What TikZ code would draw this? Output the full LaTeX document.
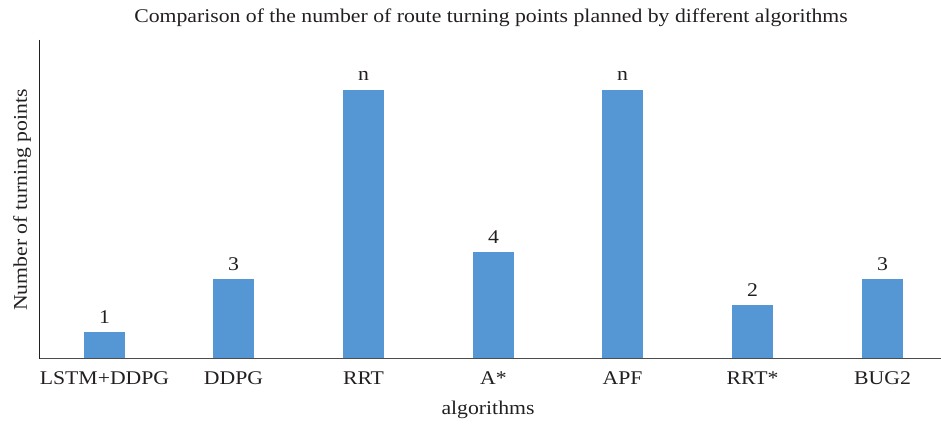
\documentclass[tikz,border=0pt]{standalone}
\usepackage{fontspec}
\setmainfont[FakeStretch=1.12]{Liberation Serif}
\definecolor{barblue}{HTML}{5596D4}
\definecolor{inkc}{HTML}{231F20}
\begin{document}
\begin{tikzpicture}[x=1pt,y=-1pt,
  txt/.style={text=inkc,font=\fontsize{19.4}{21}\selectfont,inner sep=0pt},
  bar/.style={fill=barblue,draw=none},
  vlabel/.style={txt,anchor=base}]
\useasboundingbox (0,0) rectangle (941,425);
% axes
\coordinate (o) at (39.5,358.5);
\coordinate (ytop) at (39.5,40);
\coordinate (xend) at (941,358.5);
% bars: centre, top, label
\foreach \cx/\top/\v/\name [count=\i] in
  {104.5/332/1/LSTM+DDPG, 233.5/279/3/DDPG, 363.5/90/n/RRT, 493.5/252/4/A*,
   622.5/90/n/APF, 752.5/305/2/RRT*, 882.5/279/3/BUG2}{
  \fill[bar] (\cx-20.5,358.5) rectangle (\cx+20.5,\top);
  \node[vlabel] (v\i) at (\cx,\top-9) {\v};
  \node[txt,anchor=base] (c\i) at (\cx,384) {\name};
}
\draw[inkc,line width=1.2pt] (ytop) -- (o);
\draw[black!70,line width=1.2pt] (o) -- (xend);
\node[txt] (title) at (491,18) {Comparison of the number of route turning points planned by different algorithms};
\node[txt,anchor=base] (xl) at (488,414) {algorithms};
\node[txt,rotate=90,anchor=base] (yl) at (27,200) {Number of turning points};
\end{tikzpicture}
\end{document}
